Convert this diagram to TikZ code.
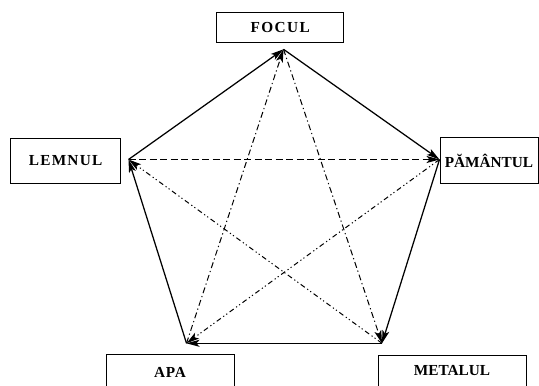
\documentclass[tikz,border=0pt]{standalone}
\usepackage{fontspec}
\setmainfont{Liberation Serif}
\usetikzlibrary{arrows.meta}
\begin{document}
\begin{tikzpicture}[x=1pt,y=-1pt,
  box/.style={draw,line width=0.9pt,inner sep=0pt,font=\bfseries\fontsize{15.3}{16}\selectfont},
  tip/.style={-{Stealth[length=13pt,width=7pt,inset=3pt]}},
  gen/.style={tip,line width=1.25pt},
  ctl/.style={tip,line width=1pt}]
\useasboundingbox (0,0) rectangle (539,386);
% labelled boxes
\node[box,minimum width=127pt,minimum height=30.5pt] (bF) at (280.2,27.5) {\addfontfeature{LetterSpace=9}FOCUL};
\node[box,minimum width=110.5pt,minimum height=45pt] (bL) at (65.6,161) {\addfontfeature{LetterSpace=8}LEMNUL};
\node[box,minimum width=98pt,minimum height=46pt] (bP) at (489,160.5) {PĂMÂNTUL};
\node[box,minimum width=128pt,minimum height=37pt] (bA) at (170,372.5) {\addfontfeature{LetterSpace=5}APA};
\node[box,minimum width=148pt,minimum height=32pt] (bM) at (452,371) {METALUL};
% pentagon vertices
\coordinate (F) at (283.5,49.3);
\coordinate (L) at (128.5,159.5);
\coordinate (P) at (439.5,159.5);
\coordinate (A) at (186.5,343.3);
\coordinate (M) at (382,343.3);
% generating cycle (solid)
\draw[gen] (L) -- (F);
\draw[gen] (F) -- (P);
\draw[gen] (P) -- (M);
\draw[gen] (M) -- (A);
\draw[gen] (A) -- (L);
% controlling cycle (broken lines)
\draw[ctl,dash pattern=on 7pt off 3.5pt] (L) -- (P);
\draw[ctl,dash pattern=on 6pt off 3pt on 1.2pt off 3pt] (A) -- (F);
\draw[ctl,dash pattern=on 6pt off 3pt on 1.2pt off 3pt] (F) -- (M);
\draw[ctl,dash pattern=on 5pt off 3pt on 1.2pt off 2.5pt on 1.2pt off 3pt] (P) -- (A);
\draw[ctl,dash pattern=on 5pt off 3pt on 1.2pt off 2.5pt on 1.2pt off 3pt] (M) -- (L);
\end{tikzpicture}
\end{document}
